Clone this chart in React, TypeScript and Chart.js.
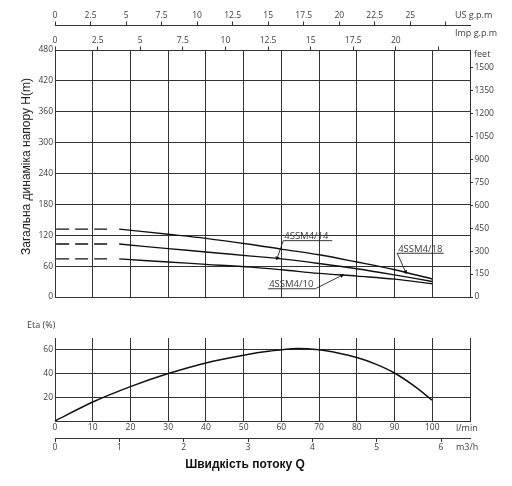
import React, { useEffect, useRef } from 'react';
import { Chart, registerables } from 'chart.js';

Chart.register(...registerables);

// ---------- data ----------
const flowLmin = [17, 30, 40, 52, 60, 70, 80, 90, 100];
const head18 = [132, 122, 114, 102, 93, 82, 68, 53, 35];
const head14 = [103, 94, 87.5, 79.5, 74, 65, 55, 43, 30];
const head10 = [74, 68, 63.5, 58, 53, 46, 40.5, 34.7, 25.7];
const dashFlow = [0.3, 15.4];
const curveNames = ['4SSM4/18', '4SSM4/14', '4SSM4/10'];
// leader lines: [underline end, underline start/knee, arrow tip]
const leader18X = [103, 90.7, 92.9];
const leader18Y = [85, 85, 49];
const leader14X = [73.5, 60.5, 58.9];
const leader14Y = [109.5, 109.5, 75.5];
const leader10X = [56.5, 69, 76];
const leader10Y = [16, 16, 41.8];

const etaFlow = [0, 10, 20, 30, 40, 50, 57, 64, 70, 75, 80, 85, 90, 95, 100];
const etaValues = [0, 16, 29, 40, 49, 55.5, 59, 61.2, 60, 57.3, 53.5, 48, 40.5, 30, 17.5];

const headMax = 480;
const feetMax = 1614;
const usGpmMax = 29.2;
const impGpmMax = 24.35;
const lminMax = 110;
const m3hMax = 6.45;
const etaMax = 70;

const yTitle = 'Загальна динаміка напору H(m)';
const xTitle = 'Швидкість потоку Q';

const GRID = '#333';
const TXT = '#3c3c3c';
const TICKFONT = { family: '"Open Sans", "DejaVu Sans", sans-serif', size: 8.5 };
const LABELFONT = '9.5px "Open Sans", "DejaVu Sans", sans-serif';

const pts = (xs: number[], ys: number[]) => xs.map((x, i) => ({ x, y: ys[i] }));

function App() {
  const topRef = useRef<HTMLCanvasElement>(null);
  const botRef = useRef<HTMLCanvasElement>(null);

  useEffect(() => {
    const lineDs = (data: any[], extra: any = {}) => ({
      data,
      borderColor: '#111',
      borderWidth: 1.4,
      pointRadius: 0,
      tension: 0.35,
      fill: false,
      xAxisID: 'x',
      yAxisID: 'y',
      ...extra,
    });
    const leaderDs = (xs: number[], ys: number[], rot: number) => ({
      data: pts(xs, ys),
      borderColor: '#222',
      borderWidth: 0.9,
      tension: 0,
      pointRadius: [0, 0, 2.6],
      pointStyle: 'triangle',
      pointRotation: rot,
      pointBackgroundColor: '#111',
      pointBorderColor: '#111',
      pointBorderWidth: 0,
      fill: false,
      xAxisID: 'x',
      yAxisID: 'y',
    });

    const topTexts = {
      id: 'topTexts',
      afterDraw(chart: any) {
        const { ctx, chartArea, scales } = chart;
        const xs = scales.x;
        const ys = scales.y;
        ctx.save();
        ctx.fillStyle = '#222';
        ctx.font = '12px "Liberation Sans", Arial, sans-serif';
        ctx.translate(chartArea.left - 28.5, (chartArea.top + chartArea.bottom) / 2 - 7);
        ctx.rotate(-Math.PI / 2);
        ctx.textAlign = 'center';
        ctx.textBaseline = 'middle';
        ctx.fillText(yTitle, 0, 0);
        ctx.restore();

        ctx.save();
        ctx.fillStyle = TXT;
        ctx.font = '9px "Open Sans", "DejaVu Sans", sans-serif';
        ctx.textAlign = 'left';
        ctx.textBaseline = 'middle';
        ctx.fillText('US g.p.m', chartArea.right - 15, 15.5);
        ctx.fillText('Imp g.p.m', chartArea.right - 15, 33.5);
        ctx.fillText('feet', chartArea.right + 4, chartArea.top + 4);

        ctx.font = LABELFONT;
        ctx.textBaseline = 'alphabetic';
        const put = (t: string, x: number, y: number) =>
          ctx.fillText(t, xs.getPixelForValue(x) + 1, ys.getPixelForValue(y) - 1.5);
        put(curveNames[0], leader18X[1], leader18Y[1]);
        put(curveNames[1], leader14X[1], leader14Y[1]);
        put(curveNames[2], leader10X[0], leader10Y[0]);
        ctx.restore();
      },
    };

    const top = new Chart(topRef.current as HTMLCanvasElement, {
      type: 'line',
      data: {
        datasets: [
          lineDs(pts(flowLmin, head18)),
          lineDs(pts(flowLmin, head14)),
          lineDs(pts(flowLmin, head10)),
          lineDs(pts(dashFlow, [head18[0], head18[0]]), { borderDash: [13, 6], tension: 0 }),
          lineDs(pts(dashFlow, [head14[0], head14[0]]), { borderDash: [13, 6], tension: 0 }),
          lineDs(pts(dashFlow, [head10[0], head10[0]]), { borderDash: [13, 6], tension: 0 }),
          leaderDs(leader18X, leader18Y, 157),
          leaderDs(leader14X, leader14Y, 198),
          leaderDs(leader10X, leader10Y, 64),
        ] as any,
      },
      options: {
        animation: false,
        responsive: false,
        maintainAspectRatio: false,
        layout: { padding: 0 },
        plugins: { legend: { display: false }, tooltip: { enabled: false } },
        scales: {
          x: {
            type: 'linear', position: 'bottom', min: 0, max: lminMax,
            ticks: { stepSize: 10, display: false },
            grid: { color: GRID, lineWidth: 1, drawTicks: false },
            border: { color: GRID, width: 1 },
            afterFit: (s: any) => { s.height = 8; },
          },
          imp: {
            type: 'linear', axis: 'x', position: 'top', weight: 0, min: 0, max: impGpmMax,
            ticks: {
              stepSize: 2.5, includeBounds: false, autoSkip: false, maxRotation: 0,
              padding: 1, color: TXT, font: TICKFONT,
              callback: (v: any) => (v > 21 ? '' : String(v)),
            },
            grid: { drawOnChartArea: false, tickLength: 3.5, color: GRID },
            border: { color: GRID, width: 1 },
            afterFit: (s: any) => { s.height = 25; },
          },
          us: {
            type: 'linear', axis: 'x', position: 'top', weight: 1, min: 0, max: usGpmMax,
            ticks: {
              stepSize: 2.5, includeBounds: false, autoSkip: false, maxRotation: 0,
              padding: 1, color: TXT, font: TICKFONT,
              callback: (v: any) => (v > 26 ? '' : String(v)),
            },
            grid: { drawOnChartArea: false, tickLength: 3.5, color: GRID },
            border: { color: GRID, width: 1 },
            afterFit: (s: any) => { s.height = 25; },
          },
          y: {
            type: 'linear', position: 'left', min: 0, max: headMax,
            ticks: { stepSize: 60, padding: 2, color: TXT, font: TICKFONT },
            grid: { color: GRID, lineWidth: 1, drawTicks: false },
            border: { color: GRID, width: 1 },
            afterFit: (s: any) => { s.width = 55; },
          },
          ft: {
            type: 'linear', axis: 'y', position: 'right', min: 0, max: feetMax,
            ticks: {
              stepSize: 150, includeBounds: false, padding: 1.5, color: TXT, font: TICKFONT,
              callback: (v: any) => String(v),
            },
            grid: { drawOnChartArea: false, tickLength: 3, color: GRID },
            border: { color: GRID, width: 1 },
            afterFit: (s: any) => { s.width = 42; },
          },
        } as any,
      },
      plugins: [topTexts],
    } as any);

    const botTexts = {
      id: 'botTexts',
      afterDraw(chart: any) {
        const { ctx, chartArea } = chart;
        ctx.save();
        ctx.fillStyle = TXT;
        ctx.font = '9px "Open Sans", "DejaVu Sans", sans-serif';
        ctx.textAlign = 'left';
        ctx.textBaseline = 'middle';
        ctx.fillText('Eta (%)', chartArea.left - 28, chartArea.top - 13);
        ctx.fillText('l/min', chartArea.right - 14, chartArea.bottom + 7);
        ctx.fillText('m3/h', chartArea.right - 14, chartArea.bottom + 26);
        ctx.fillStyle = '#111';
        ctx.font = 'bold 12px "Liberation Sans", Arial, sans-serif';
        ctx.textAlign = 'center';
        ctx.fillText(xTitle, 245, chartArea.bottom + 44);
        ctx.restore();
      },
    };

    const bot = new Chart(botRef.current as HTMLCanvasElement, {
      type: 'line',
      data: {
        datasets: [
          {
            data: pts(etaFlow, etaValues),
            borderColor: '#111',
            borderWidth: 1.5,
            pointRadius: 0,
            tension: 0.3,
            fill: false,
            xAxisID: 'x',
            yAxisID: 'y',
          },
        ] as any,
      },
      options: {
        animation: false,
        responsive: false,
        maintainAspectRatio: false,
        layout: { padding: { top: 33, right: 42, left: 0, bottom: 0 } },
        plugins: { legend: { display: false }, tooltip: { enabled: false } },
        scales: {
          x: {
            type: 'linear', position: 'bottom', weight: 0, min: 0, max: lminMax,
            ticks: {
              stepSize: 10, autoSkip: false, maxRotation: 0, padding: 1, color: TXT, font: TICKFONT,
              callback: (v: any) => (v > 100 ? '' : String(v)),
            },
            grid: { color: GRID, lineWidth: 1, drawTicks: false },
            border: { color: GRID, width: 1 },
            afterFit: (s: any) => { s.height = 17; },
          },
          m3h: {
            type: 'linear', axis: 'x', position: 'bottom', weight: 1, min: 0, max: m3hMax,
            ticks: {
              stepSize: 1, includeBounds: false, autoSkip: false, maxRotation: 0,
              padding: 0, color: TXT, font: TICKFONT,
            },
            grid: { drawOnChartArea: false, tickLength: 4, color: GRID },
            border: { color: GRID, width: 1 },
            afterFit: (s: any) => { s.height = 48; },
          },
          y: {
            type: 'linear', position: 'left', min: 0, max: etaMax,
            ticks: {
              stepSize: 10, padding: 2, color: TXT, font: TICKFONT,
              callback: (v: any) => (v === 20 || v === 40 || v === 60 ? String(v) : ''),
            },
            grid: { color: GRID, lineWidth: 1, drawTicks: false },
            border: { color: GRID, width: 1 },
            afterFit: (s: any) => { s.width = 55; },
          },
        } as any,
      },
      plugins: [botTexts],
    } as any);

    return () => {
      top.destroy();
      bot.destroy();
    };
  }, []);

  return (
    <div style={{ position: 'absolute', left: 0, top: 0, width: 512, height: 486, background: '#fff' }}>
      <canvas
        ref={topRef}
        width={512}
        height={305}
        style={{ position: 'absolute', left: 0, top: 0, width: 512, height: 305 }}
      />
      <canvas
        ref={botRef}
        width={512}
        height={181}
        style={{ position: 'absolute', left: 0, top: 305, width: 512, height: 181 }}
      />
    </div>
  );
}

export default App;
